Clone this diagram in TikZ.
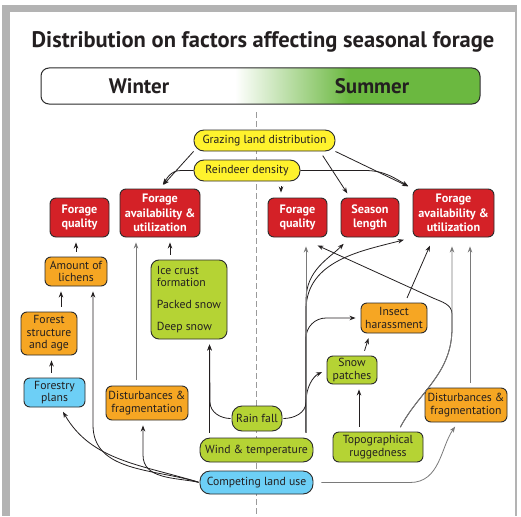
\documentclass[tikz,border=0pt]{standalone}
\usepackage{fontspec}
\setmainfont{PT Sans}
\usetikzlibrary{arrows.meta}
\definecolor{ink}{HTML}{231F20}
\definecolor{edge}{HTML}{2B2B2B}
\definecolor{boxred}{HTML}{D42127}
\definecolor{byellow}{HTML}{FFF22D}
\definecolor{borange}{HTML}{F6A623}
\definecolor{blime}{HTML}{B5D334}
\definecolor{bblue}{HTML}{6DCFF6}
\definecolor{sgreen}{HTML}{6BB840}
\definecolor{framegray}{HTML}{B3B3B3}
\definecolor{dashgray}{HTML}{9A9A9A}
\definecolor{linkgray}{HTML}{7A7A7A}

\begin{document}
\begin{tikzpicture}[x=1pt,y=1pt,
		>={Stealth[length=6pt,width=4.5pt]},
		box/.style={draw=edge,line width=0.9pt,rounded corners=6pt,align=center,inner sep=1pt,text=ink,font=\fontsize{11.7}{12.5}\selectfont},
		pill/.style={box,rounded corners=10pt},
		goal/.style={box,fill=boxred,text=white,font=\bfseries\fontsize{12.2}{14.2}\selectfont},
		link/.style={->,line width=0.8pt,draw=ink,shorten >=5pt,shorten <=5pt},
		glink/.style={link,draw=linkgray},
		far/.style={shorten >=9pt}]
		\useasboundingbox (0,0) rectangle (521,-516);
		\fill[framegray] (2,-5) rectangle (517,-516);
		\fill[white] (10,-12) rectangle (515,-516);

		\node[font=\bfseries\fontsize{22.5}{24}\selectfont,text=ink] (title) at (263,-42) {Distribution on factors affecting seasonal forage};

		\begin{scope}
			\clip[rounded corners=8pt] (41,-68) rectangle (480,-104);
			\fill[white] (41,-68) rectangle (235,-104);
			\shade[left color=white,right color=sgreen] (235,-68) rectangle (350,-104);
			\fill[sgreen] (349.5,-68) rectangle (480,-104);
		\end{scope}
		\draw[edge,line width=1pt,rounded corners=8pt] (41,-68) rectangle (480,-104);
		\node[font=\bfseries\fontsize{21}{22}\selectfont,text=ink] (winter) at (139,-86) {Winter};
		\node[font=\bfseries\fontsize{21}{22}\selectfont,text=ink] (summer) at (372,-86) {Summer};

		\draw[dashgray,line width=1pt,dash pattern=on 6pt off 3pt] (256,-112) -- (256,-516);

		\node[pill,fill=byellow,minimum width=141pt,minimum height=21pt] (gld) at (264.5,-140.5) {Grazing land distribution};
		\node[pill,fill=byellow,minimum width=106pt,minimum height=21pt] (rd) at (247,-170.5) {Reindeer density};

		\node[goal,minimum width=59pt,minimum height=39pt] (wfq) at (79.5,-217.5) {Forage\\quality};
		\node[goal,minimum width=80pt,minimum height=48pt] (wfa) at (160,-213) {Forage\\availability \&\\utilization};
		\node[goal,minimum width=59pt,minimum height=39pt] (sfq) at (297.5,-217.5) {Forage\\quality};
		\node[goal,minimum width=58pt,minimum height=39pt] (sl) at (370,-217.5) {Season\\length};
		\node[goal,minimum width=81pt,minimum height=48pt] (sfa) at (453.5,-213) {Forage\\availability \&\\utilization};

		\node[box,fill=borange,minimum width=62pt,minimum height=29pt] (lich) at (76,-271.5) {Amount of\\lichens};
		\node[box,fill=blime,align=left,rounded corners=8pt,minimum width=76pt,minimum height=79pt] (ice) at (189,-299.5) {Ice crust\\formation\\[9pt]Packed snow\\[10pt]Deep snow};
		\node[box,fill=borange,minimum width=56pt,minimum height=43pt] (fsa) at (49,-333.5) {Forest\\structure\\and age};
		\node[box,fill=bblue,minimum width=61pt,minimum height=29pt] (fp) at (54.5,-392.5) {Forestry\\plans};
		\node[box,fill=borange,minimum width=82pt,minimum height=34pt] (wdf) at (147,-403) {Disturbances \&\\fragmentation};

		\node[pill,fill=blime,minimum width=50pt,minimum height=25pt] (rain) at (257,-418.5) {Rain fall};
		\node[pill,fill=blime,minimum width=113pt,minimum height=24pt] (wind) at (256.5,-450) {Wind \& temperature};
		\node[pill,fill=bblue,minimum width=113pt,minimum height=23pt] (clu) at (256.5,-482.5) {Competing land use};

		\node[box,fill=borange,minimum width=66pt,minimum height=30pt] (ins) at (394,-318) {Insect\\harassment};
		\node[box,fill=blime,minimum width=50pt,minimum height=28pt] (snow) at (352,-370) {Snow\\patches};
		\node[box,fill=blime,minimum width=90pt,minimum height=30pt] (topo) at (378,-447) {Topographical\\ruggedness};
		\node[box,fill=borange,minimum width=82pt,minimum height=34pt] (sdf) at (466,-405) {Disturbances \&\\fragmentation};

		\coordinate (wl) at ([xshift=-47pt]wind.north);
		\coordinate (wr) at ([xshift=49.5pt]wind.north);

		% top: grazing and density
		\draw[link,shorten <=0pt] (gld.south west) -- (wfa.north);
		\draw[link,shorten <=0pt] (rd.west) -- (181,-170.5) to[out=180,in=55] (wfa.north);
		\draw[link,shorten <=0pt] (gld.south east) -- (sfa.north west);
		\draw[link] (gld.south -| 320,0) -- (sl.135);
		\draw[link,shorten <=0pt] (rd.east) -- (365,-170.5) to[out=0,in=150] (sfa.north west);
		\draw[link] ([xshift=34pt]rd.south) -- ([xshift=34pt]rd.south |- sfq.north);

		% winter side
		\draw[link] (lich.north) -- (lich.north |- wfq.south);
		\draw[link] ([xshift=12pt]fsa.north) -- ([xshift=12pt]fsa.north |- lich.south);
		\draw[link] ([xshift=-3pt]fp.north) -- ([xshift=-3pt]fp.north |- fsa.south);
		\draw[link] ([xshift=-19pt]ice.north) -- ([xshift=-19pt]ice.north |- wfa.south);
		\draw[glink,shorten <=6pt] ([xshift=-11pt]wdf.north) -- ([xshift=-11pt]wdf.north |- wfa.south);
		\draw[link] (wl) -- (wl |- ice.south);
		\draw[link,shorten <=1pt] (rain.west) to[out=180,in=-90] (210,-402) -- (wl |- ice.south);
		\draw[link,shorten <=1pt] (clu.west) to[out=163,in=-60] ([xshift=6pt]fp.south);
		\draw[link,shorten <=1pt] (clu.west) to[out=163,in=-90] (93,-425) -- ([xshift=17pt]lich.south);
		\draw[link,shorten <=1pt] (clu.west) to[out=168,in=-90] (143,-455) -- ([xshift=-4pt]wdf.south);

		% summer side
		\draw[link,shorten <=1pt] (rain.east) to[out=0,in=-90] (306,-402) to[out=90,in=205] (snow.west);
		\draw[link] (wr) -- (306,-338) to[out=90,in=180] (326,-318) -- (ins.west);
		\draw[link,far] (wr) -- (306,-300) to[out=90,in=-135] (sl.-135);
		\draw[link,far] (wr) -- (306,-310) to[out=90,in=195] (sfa.south west);
		\draw[glink,far] (wr) -- (wr |- sfq.south);
		\draw[link,shorten >=0pt] ([xshift=20pt]topo.north) to[out=62,in=-90] (452,-328) -- (452,-314) to[out=90,in=-24] (433,-298) -- ([xshift=20pt,yshift=-8pt]sfq.south);
		\draw[glink,far] ([xshift=20pt]topo.north) to[out=62,in=-90] (452,-328) -- (sfa.south -| 452,0);
		\draw[link,far] ([xshift=11pt]ins.north) -- ([xshift=-20pt]sfa.south);
		\draw[glink,far] ([xshift=4pt]sdf.north) -- ([xshift=4pt]sdf.north |- sfa.south);
		\draw[link] ([xshift=11pt]snow.north) -- ([xshift=-24pt]ins.south);
		\draw[link] ([xshift=-19pt]topo.north) -- ([xshift=-19pt]topo.north |- snow.south);
		\draw[glink,shorten <=8pt] (clu.east) -- (410,-482.5) to[out=0,in=-125] ([xshift=-8pt]sdf.south);
	\end{tikzpicture}
\end{document}
